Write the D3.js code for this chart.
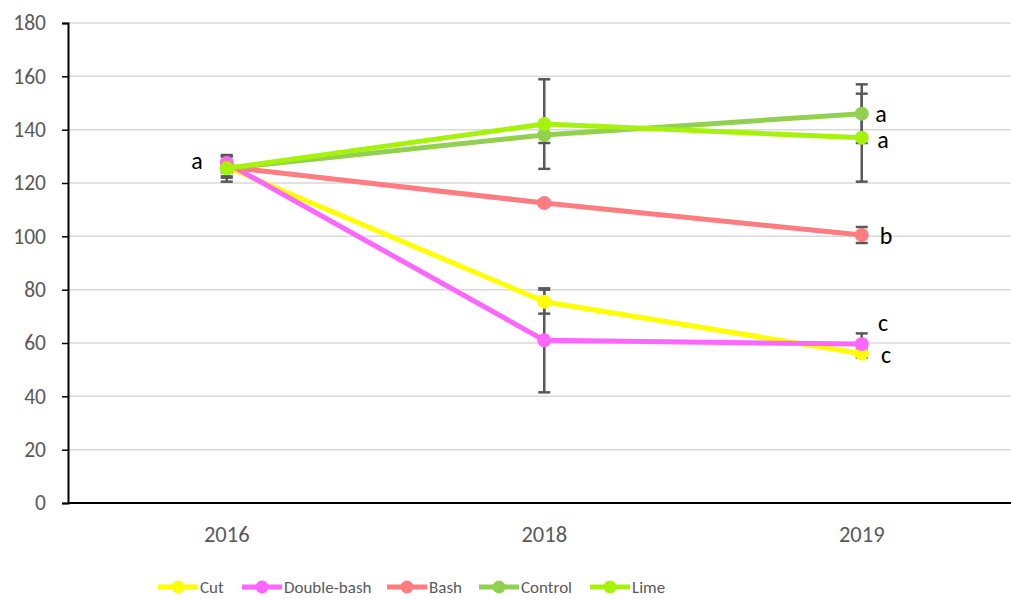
<!DOCTYPE html>
<html><head><meta charset="utf-8">
<script src="https://cdn.jsdelivr.net/npm/d3@7"></script>
<style>body{margin:0;background:#fff}svg{display:block}</style>
</head><body>
<svg id="c" width="1011" height="599"></svg>
<script>
const years = ["2016", "2018", "2019"];
const yTicks = [0, 20, 40, 60, 80, 100, 120, 140, 160, 180];
const seriesNames = ["Cut", "Double-bash", "Bash", "Control", "Lime"];
const cutVals = [126, 75.5, 56];
const cutErr = [4, 4.5, 1.5];
const dbashVals = [127.5, 61, 59.6];
const dbashErr = [2.5, 19.5, 4];
const bashVals = [126, 112.5, 100.5];
const bashErr = [2, 1, 3];
const controlVals = [125.5, 138, 146];
const controlErr = [5, 3, 11];
const limeVals = [125.5, 142.1, 137];
const limeErr = [3, 16.8, 16.5];
const colors = ["#FFFF00", "#FF66FF", "#FF7C80", "#92D050", "#A6F20C"];
// [letter, baseline value, x]
const sigLetters = [["a", 125.2, 197], ["a", 143, 881], ["a", 133, 883], ["b", 97.1, 886], ["c", 64.5, 883], ["c", 52.5, 886]];

const series = [
  {name: seriesNames[0], vals: cutVals, err: cutErr, color: colors[0]},
  {name: seriesNames[1], vals: dbashVals, err: dbashErr, color: colors[1]},
  {name: seriesNames[2], vals: bashVals, err: bashErr, color: colors[2]},
  {name: seriesNames[3], vals: controlVals, err: controlErr, color: colors[3]},
  {name: seriesNames[4], vals: limeVals, err: limeErr, color: colors[4]}
];

const svg = d3.select("#c");
const pLeft = 68, pRight = 1020.5, pTop = 23, pBottom = 503;
const x = d3.scaleBand().domain(years).range([pLeft, pRight]);
const cx = d => x(d) + x.bandwidth() / 2;
const y = d3.scaleLinear().domain([0, 180]).range([pBottom, pTop]);
const font = "Calibri, Carlito, 'Liberation Sans', Arial, sans-serif";

// gridlines
svg.append("g").selectAll("line").data(yTicks.filter(t => t > 0)).join("line")
  .attr("x1", pLeft).attr("x2", 1011)
  .attr("y1", d => y(d)).attr("y2", d => y(d))
  .attr("stroke", "#D9D9D9").attr("stroke-width", 1.5);

// y axis
const yAxis = svg.append("g").attr("transform", `translate(${pLeft},0)`)
  .call(d3.axisLeft(y).tickValues(yTicks).tickSize(6).tickPadding(16));
yAxis.select(".domain").attr("stroke", "#000").attr("stroke-width", 2);
yAxis.selectAll(".tick line").attr("stroke", "#000").attr("stroke-width", 1.5);
yAxis.selectAll("text").attr("fill", "#595959").style("font-family", font).style("font-size", "21.5px");

// x axis
const xAxis = svg.append("g").attr("transform", `translate(0,${pBottom})`)
  .call(d3.axisBottom(x).tickSize(0));
xAxis.select(".domain").attr("d", `M${pLeft},0H1011`).attr("stroke", "#000").attr("stroke-width", 2);
xAxis.selectAll("text").attr("y", 39).attr("dy", null)
  .attr("fill", "#595959").style("font-family", font).style("font-size", "22.5px");

const line = d3.line().x((d, i) => cx(years[i])).y(d => y(d));

// error bars
const eb = svg.append("g");
series.forEach(s => {
  s.vals.forEach((v, i) => {
    const X = cx(years[i]);
    const g = eb.append("g").attr("stroke", "#595959").attr("stroke-width", 2.5);
    g.append("line").attr("x1", X).attr("x2", X).attr("y1", y(v - s.err[i])).attr("y2", y(v + s.err[i]));
    [v - s.err[i], v + s.err[i]].forEach(e =>
      g.append("line").attr("x1", X - 6).attr("x2", X + 6).attr("y1", y(e)).attr("y2", y(e)));
  });
});

// lines and markers
series.forEach(s => {
  svg.append("path").datum(s.vals).attr("d", line)
    .attr("fill", "none").attr("stroke", s.color).attr("stroke-width", 5).attr("stroke-linejoin", "round");
  svg.append("g").selectAll("circle").data(s.vals).join("circle")
    .attr("cx", (d, i) => cx(years[i])).attr("cy", d => y(d)).attr("r", 7).attr("fill", s.color);
});

// significance letters
svg.append("g").selectAll("text").data(sigLetters).join("text")
  .attr("x", d => d[2]).attr("y", d => y(d[1])).attr("text-anchor", "middle")
  .style("font-family", font).style("font-size", "24px")
  .attr("fill", "#000").text(d => d[0]);

// legend
const legX = [158, 242, 387, 479, 590];
const lg = svg.append("g");
series.forEach((s, i) => {
  const g = lg.append("g").attr("transform", `translate(${legX[i]},587)`);
  g.append("line").attr("x1", 0).attr("x2", 40).attr("stroke", s.color).attr("stroke-width", 5);
  g.append("circle").attr("cx", 20).attr("r", 6.5).attr("fill", s.color);
  g.append("text").attr("x", 42).attr("dominant-baseline", "central")
    .style("font-family", font).style("font-size", "17px").attr("fill", "#595959").text(s.name);
});
</script>
</body></html>
